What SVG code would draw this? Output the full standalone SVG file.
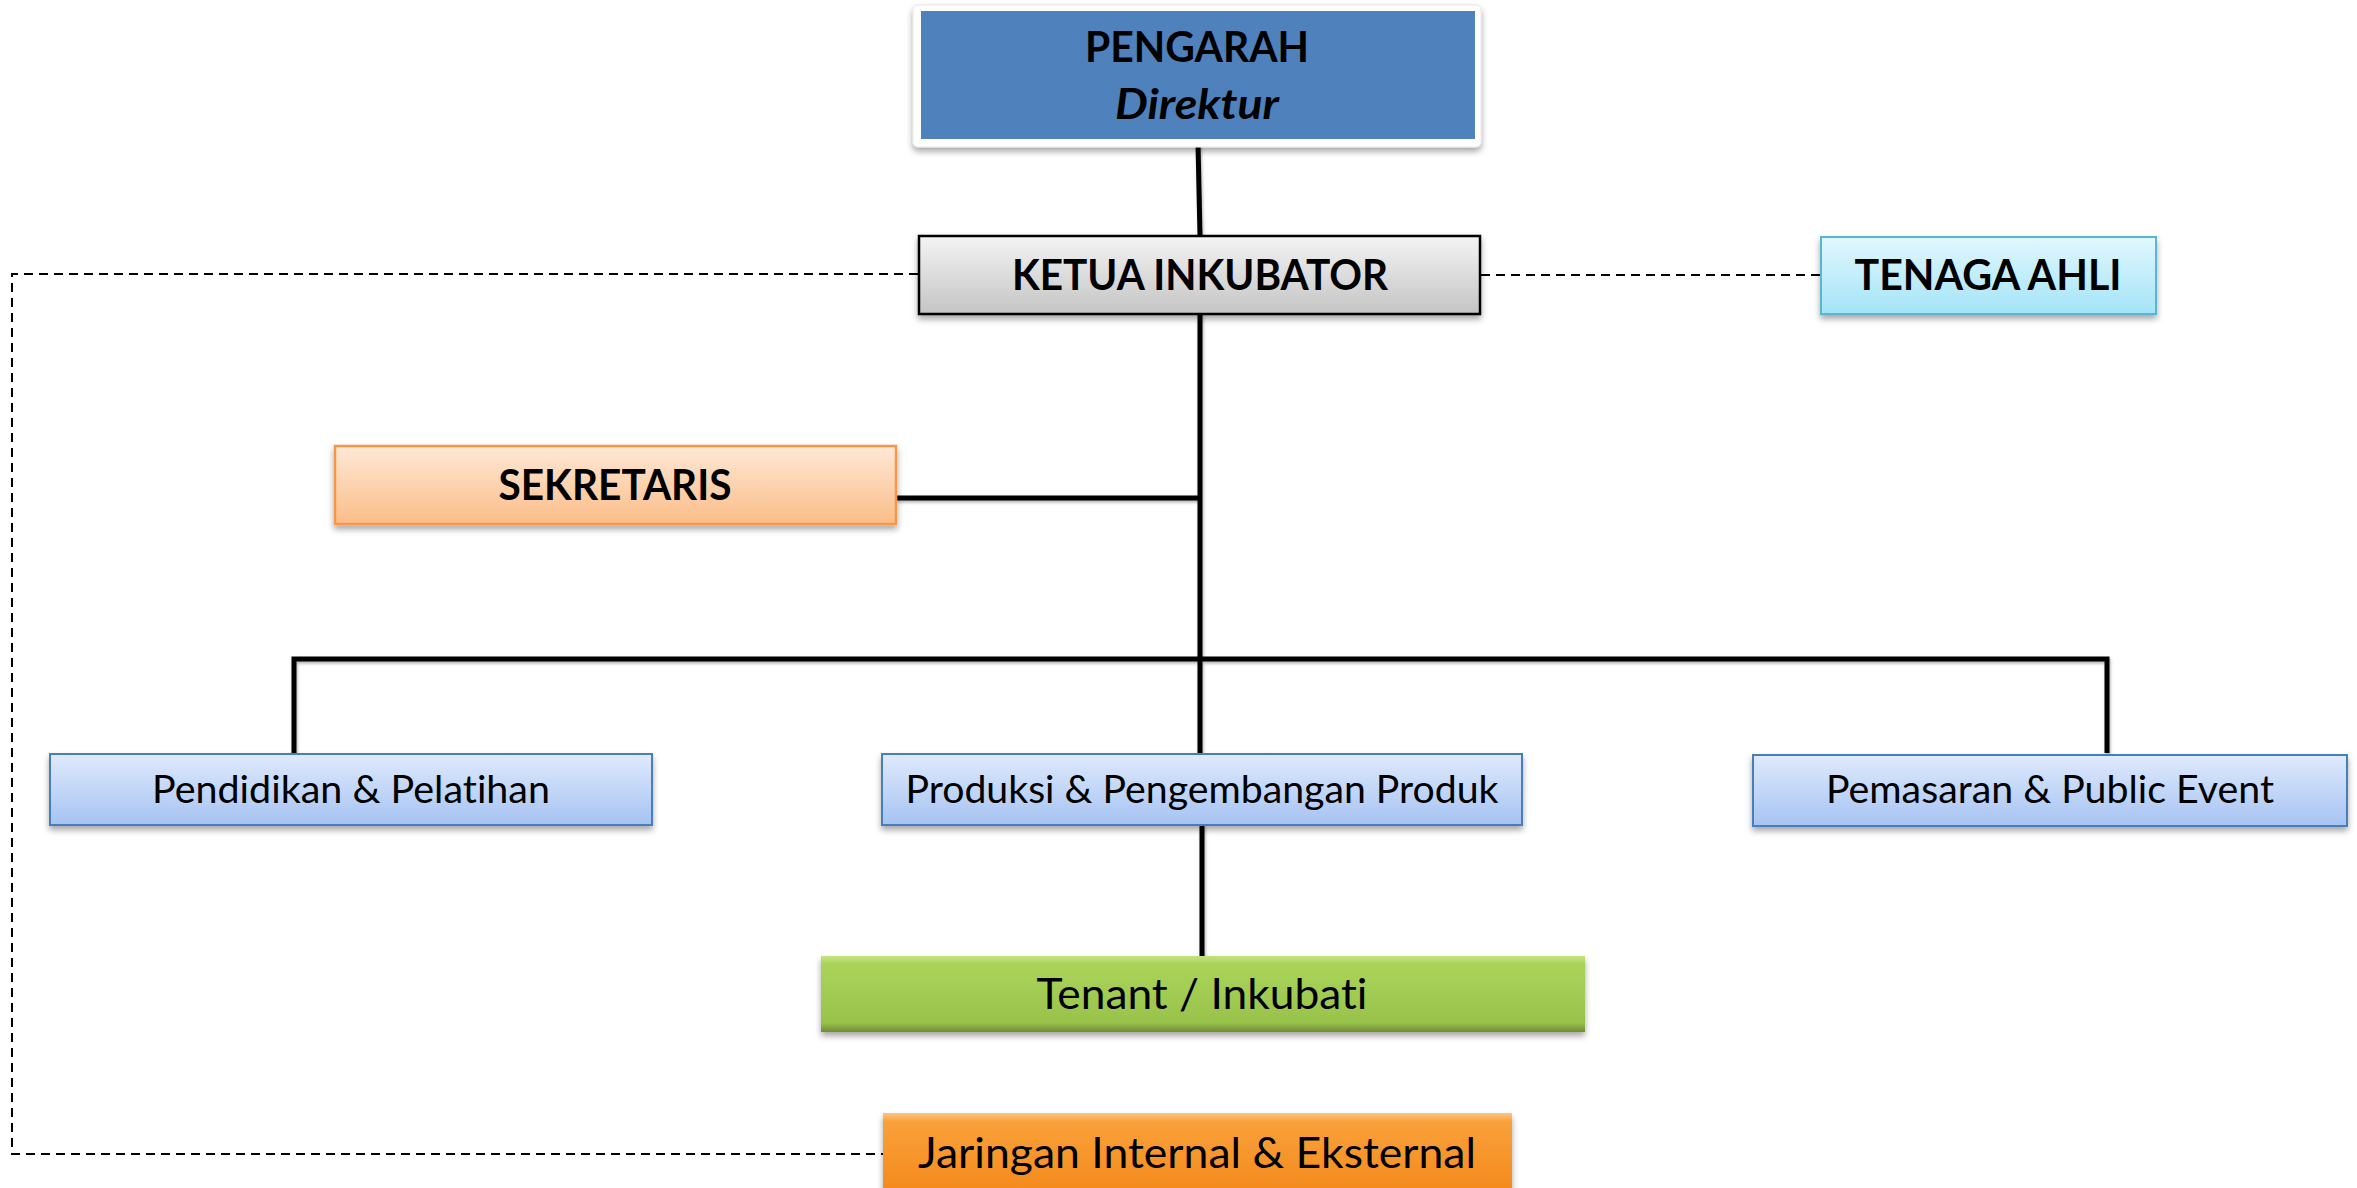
<svg xmlns="http://www.w3.org/2000/svg" width="2357" height="1188" viewBox="0 0 2357 1188">
<style>
  .bold { font-family: Lato, "Open Sans", "Liberation Sans", sans-serif; font-weight: bold; fill: #000; font-variant-ligatures: none; font-feature-settings: "liga" 0, "clig" 0; }
  .reg { font-family: Lato, "Open Sans", "Liberation Sans", sans-serif; font-weight: normal; fill: #000; font-variant-ligatures: none; font-feature-settings: "liga" 0, "clig" 0; }
  .solid { stroke: #000; stroke-width: 5; fill: none; stroke-linecap: butt; }
  .dash { stroke: #000; stroke-width: 2; fill: none; stroke-dasharray: 9 6; }
</style>
<defs>
  <filter id="shadow" x="-5%" y="-30%" width="110%" height="170%">
    <feDropShadow dx="0" dy="4" stdDeviation="3" flood-color="#000" flood-opacity="0.35"/>
  </filter>
  <filter id="lshadow" filterUnits="userSpaceOnUse" x="0" y="0" width="2357" height="1188">
    <feDropShadow dx="1" dy="2" stdDeviation="1.5" flood-color="#000" flood-opacity="0.3"/>
  </filter>
  <linearGradient id="gGray" x1="0" y1="0" x2="0" y2="1">
    <stop offset="0" stop-color="#f4f4f4"/>
    <stop offset="1" stop-color="#c4c4c4"/>
  </linearGradient>
  <linearGradient id="gCyan" x1="0" y1="0" x2="0" y2="1">
    <stop offset="0" stop-color="#e2f7fd"/>
    <stop offset="1" stop-color="#a3e4f8"/>
  </linearGradient>
  <linearGradient id="gPeach" x1="0" y1="0" x2="0" y2="1">
    <stop offset="0" stop-color="#fee8d6"/>
    <stop offset="1" stop-color="#fbbd88"/>
  </linearGradient>
  <linearGradient id="gBlue" x1="0" y1="0" x2="0" y2="1">
    <stop offset="0" stop-color="#dfeafc"/>
    <stop offset="1" stop-color="#a6c3f3"/>
  </linearGradient>
  <linearGradient id="gGreen" x1="0" y1="0" x2="0" y2="1">
    <stop offset="0" stop-color="#c4e280"/>
    <stop offset="0.1" stop-color="#aad45a"/>
    <stop offset="0.88" stop-color="#98c24a"/>
    <stop offset="1" stop-color="#6e8c35"/>
  </linearGradient>
  <linearGradient id="gOrange" x1="0" y1="0" x2="0" y2="1">
    <stop offset="0" stop-color="#fcc583"/>
    <stop offset="0.1" stop-color="#f9a13a"/>
    <stop offset="0.88" stop-color="#f48b1e"/>
    <stop offset="1" stop-color="#c96a10"/>
  </linearGradient>
</defs>

<g id="connectors">
  <g filter="url(#lshadow)">
    <line class="solid" x1="1198" y1="143" x2="1200" y2="236"/>
    <line class="solid" x1="1200" y1="314" x2="1200" y2="753"/>
    <line class="solid" x1="896" y1="498" x2="1200" y2="498"/>
    <polyline class="solid" points="294,753 294,659 2107,659 2107,753"/>
    <line class="solid" x1="1202" y1="825" x2="1202" y2="956"/>
  </g>
  <line class="dash" x1="1481" y1="275" x2="1820" y2="275"/>
  <polyline class="dash" points="918,274 12,274 12,1154 883,1154"/>
</g>

<g id="pengarah">
  <rect x="913" y="5" width="568" height="142" rx="5" fill="#ffffff" stroke="#e6e6e6" stroke-width="1" filter="url(#shadow)"/>
  <rect x="921" y="11" width="554" height="128" fill="#4f81bd"/>
  <text class="bold" x="1197" y="62" font-size="42" text-anchor="middle" textLength="224" lengthAdjust="spacingAndGlyphs">PENGARAH</text>
  <text class="bold" x="1197" y="119" font-size="42" font-style="italic" text-anchor="middle" textLength="164" lengthAdjust="spacingAndGlyphs">Direktur</text>
</g>

<g id="ketua">
  <rect x="919" y="236" width="561" height="78" fill="url(#gGray)" stroke="#000" stroke-width="2.5" filter="url(#shadow)"/>
  <text class="bold" x="1200" y="290" font-size="42" text-anchor="middle" textLength="376" lengthAdjust="spacingAndGlyphs">KETUA INKUBATOR</text>
</g>

<g id="tenaga-ahli">
  <rect x="1821" y="237" width="335" height="77" fill="url(#gCyan)" stroke="#5ab5d0" stroke-width="2" filter="url(#shadow)"/>
  <text class="bold" x="1988" y="290" font-size="42" text-anchor="middle" textLength="267" lengthAdjust="spacingAndGlyphs">TENAGA AHLI</text>
</g>

<g id="sekretaris">
  <rect x="335" y="446" width="561" height="78" fill="url(#gPeach)" stroke="#f79646" stroke-width="2.5" filter="url(#shadow)"/>
  <text class="bold" x="615" y="500" font-size="42" text-anchor="middle" textLength="233" lengthAdjust="spacingAndGlyphs">SEKRETARIS</text>
</g>

<g id="pendidikan">
  <rect x="50" y="754" width="602" height="71" fill="url(#gBlue)" stroke="#4a7ebb" stroke-width="2" filter="url(#shadow)"/>
  <text class="reg" x="351" y="803" font-size="37.8" text-anchor="middle" textLength="398" lengthAdjust="spacingAndGlyphs">Pendidikan &amp; Pelatihan</text>
</g>

<g id="produksi">
  <rect x="882" y="754" width="640" height="71" fill="url(#gBlue)" stroke="#4a7ebb" stroke-width="2" filter="url(#shadow)"/>
  <text class="reg" x="1202" y="803" font-size="37.8" text-anchor="middle" textLength="593" lengthAdjust="spacingAndGlyphs">Produksi &amp; Pengembangan Produk</text>
</g>

<g id="pemasaran">
  <rect x="1753" y="755" width="594" height="71" fill="url(#gBlue)" stroke="#4a7ebb" stroke-width="2" filter="url(#shadow)"/>
  <text class="reg" x="2050" y="803" font-size="37.8" text-anchor="middle" textLength="448" lengthAdjust="spacingAndGlyphs">Pemasaran &amp; Public Event</text>
</g>

<g id="tenant">
  <rect x="821" y="956" width="764" height="76" fill="url(#gGreen)" filter="url(#shadow)"/>
  <text class="reg" x="1202" y="1009" font-size="42" text-anchor="middle" textLength="331" lengthAdjust="spacingAndGlyphs">Tenant / Inkubati</text>
</g>

<g id="jaringan">
  <rect x="883" y="1113" width="629" height="85" fill="url(#gOrange)" filter="url(#shadow)"/>
  <text class="reg" x="1197" y="1168" font-size="43" text-anchor="middle" textLength="558" lengthAdjust="spacingAndGlyphs">Jaringan Internal &amp; Eksternal</text>
</g>
</svg>
